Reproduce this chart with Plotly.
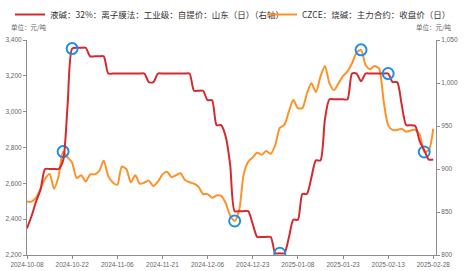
import plotly.graph_objects as go

# ---------------- data ----------------
tick_labels = ["2024-10-08", "2024-10-22", "2024-11-06", "2024-11-21", "2024-12-06",
               "2024-12-23", "2025-01-08", "2025-01-23", "2025-02-13", "2025-02-28"]
tick_index = [0, 10, 20, 30, 40, 50, 60, 70, 80, 90]

# 液碱 32% 山东 自提价 (right axis)
spot = [831, 845, 862, 876, 900, 900, 900, 900, 910, 975,
        1040, 1041, 1041, 1041, 1031, 1031, 1031, 1031, 1011, 1011,
        1011, 1011, 1011, 1011, 1011, 1011, 1011, 1001, 1001, 1011,
        1011, 1011, 1011, 1011, 1011, 1011, 1011, 991, 991, 991,
        980, 980, 951, 951, 938, 905, 851, 851, 851, 851,
        836, 821, 821, 821, 821, 802, 802, 802, 820, 841,
        841, 871, 871, 890, 910, 910, 958, 981, 981, 981,
        981, 981, 1011, 1011, 1002, 1011, 1011, 1011, 1011, 1011,
        1011, 1001, 1001, 975, 951, 951, 950, 932, 922, 911,
        911]

# CZCE 烧碱 主力合约 收盘价 (left axis)
futures = [2498, 2498, 2520, 2570, 2625, 2652, 2570, 2640, 2777, 2745,
           2715, 2630, 2645, 2610, 2650, 2650, 2670, 2726, 2640, 2605,
           2592, 2693, 2680, 2605, 2645, 2598, 2605, 2615, 2585, 2610,
           2650, 2665, 2635, 2645, 2656, 2619, 2606, 2598, 2580, 2540,
           2540, 2520, 2532, 2530, 2490, 2420, 2390, 2450, 2650, 2720,
           2745, 2771, 2760, 2780, 2765, 2814, 2910, 2926, 3000, 3065,
           3020, 3020, 3100, 3158, 3110, 3195, 3255, 3158, 3121, 3158,
           3200, 3225, 3270, 3330, 3345, 3260, 3237, 3255, 3240, 3060,
           2925, 2898, 2898, 2905, 2888, 2895, 2898, 2870, 2775, 2785,
           2905]

hl_fut_idx = [8, 46, 74, 88]
hl_spot_idx = [10, 56, 80]

name_spot = "液碱：32%：离子膜法：工业级：自提价：山东（日）（右轴）"
name_fut = "CZCE：烧碱：主力合约：收盘价（日）"

RED = "#D42A2E"
ORANGE = "#FF9128"
BLUE = "#1E8FEA"
GRAY = "#8C8C8C"
TXT = "#666666"

x = list(range(len(spot)))

fig = go.Figure()
fig.add_trace(go.Scatter(x=x, y=spot, name=name_spot, mode="lines", yaxis="y2",
                         legend="legend",
                         line=dict(color=RED, width=2, shape="spline", smoothing=0.7)))
fig.add_trace(go.Scatter(x=x, y=futures, name=name_fut, mode="lines", yaxis="y",
                         legend="legend2",
                         line=dict(color=ORANGE, width=2, shape="spline", smoothing=0.7)))
fig.add_trace(go.Scatter(x=hl_fut_idx, y=[futures[i] for i in hl_fut_idx], mode="markers",
                         yaxis="y", showlegend=False, hoverinfo="skip",
                         marker=dict(symbol="circle-open", size=11, color=BLUE,
                                     line=dict(width=2, color=BLUE))))
fig.add_trace(go.Scatter(x=hl_spot_idx, y=[spot[i] for i in hl_spot_idx], mode="markers",
                         yaxis="y2", showlegend=False, hoverinfo="skip",
                         marker=dict(symbol="circle-open", size=11, color=BLUE,
                                     line=dict(width=2, color=BLUE))))

axis_font = dict(family="Liberation Sans, Arial, sans-serif", size=6.5, color=TXT)
legend_font = dict(family="Noto Sans CJK SC", size=8.5, color="#333333")

fig.update_layout(
    width=464, height=271,
    margin=dict(l=27, r=28, t=40, b=16, autoexpand=False),
    paper_bgcolor="white", plot_bgcolor="white",
    showlegend=True,
    legend=dict(orientation="h", xref="container", x=10 / 464, xanchor="left",
                yref="container", y=1.0, yanchor="top", font=legend_font,
                itemwidth=30, bgcolor="rgba(0,0,0,0)"),
    legend2=dict(orientation="h", xref="container", x=262 / 464, xanchor="left",
                 yref="container", y=1.0, yanchor="top", font=legend_font,
                 itemwidth=30, bgcolor="rgba(0,0,0,0)"),
    xaxis=dict(range=[0, 90.6], tickmode="array", tickvals=tick_index, ticktext=tick_labels,
               showgrid=False, zeroline=False, showline=True, linecolor=GRAY, linewidth=1,
               ticks="outside", ticklen=3, tickcolor=GRAY, tickfont=axis_font),
    yaxis=dict(range=[2200, 3400], dtick=200, tickformat=",", showgrid=False, zeroline=False,
               showline=True, linecolor=GRAY, linewidth=1, ticks="outside", ticklen=3,
               tickcolor=GRAY, tickfont=axis_font),
    yaxis2=dict(range=[800, 1050], dtick=50, tickformat=",", overlaying="y", side="right",
                showgrid=False, zeroline=False, showline=True, linecolor=GRAY, linewidth=1,
                ticks="outside", ticklen=3, tickcolor=GRAY, tickfont=axis_font),
    annotations=[
        dict(text="单位：元/吨", xref="paper", yref="paper", x=-0.045, y=1.03, xanchor="left",
             yanchor="bottom", showarrow=False,
             font=dict(family="Noto Sans CJK SC", size=6.5, color=TXT)),
        dict(text="单位：元/吨", xref="paper", yref="paper", x=1.045, y=1.03, xanchor="right",
             yanchor="bottom", showarrow=False,
             font=dict(family="Noto Sans CJK SC", size=6.5, color=TXT)),
    ],
)

fig.write_html("out.html")
